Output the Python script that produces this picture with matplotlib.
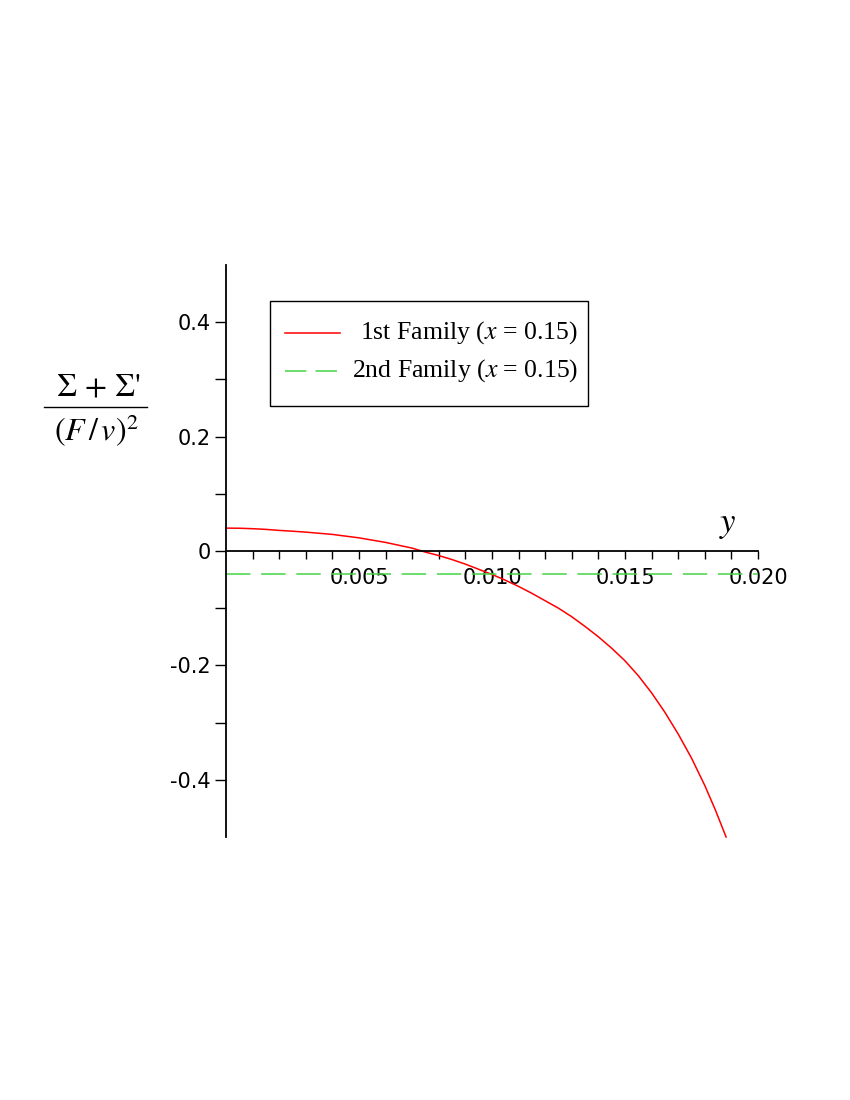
import matplotlib
matplotlib.use("Agg")
import matplotlib.pyplot as plt
from matplotlib.patches import Rectangle
from matplotlib.lines import Line2D
import numpy as np

plt.rcParams['mathtext.fontset'] = 'stix'

# values
y_first = [0.0, 0.0005, 0.001, 0.0015, 0.002, 0.0025, 0.003, 0.0035, 0.004, 0.0045,
           0.005, 0.0055, 0.006, 0.0065, 0.007, 0.0075, 0.008, 0.0085, 0.009, 0.0095,
           0.010, 0.0105, 0.011, 0.0115, 0.012, 0.0125, 0.013, 0.0135, 0.014, 0.0145,
           0.015, 0.0155, 0.016, 0.0165, 0.017, 0.0175, 0.018, 0.0184, 0.0188]
s_first = [0.040, 0.0398, 0.039, 0.0378, 0.036, 0.0346, 0.033, 0.031, 0.029, 0.026,
           0.023, 0.019, 0.015, 0.010, 0.005, -0.002, -0.008, -0.015, -0.023, -0.032,
           -0.041, -0.051, -0.062, -0.074, -0.087, -0.100, -0.115, -0.132, -0.150, -0.170,
           -0.192, -0.218, -0.248, -0.282, -0.320, -0.362, -0.410, -0.453, -0.500]
y_second = [0.0, 0.020]
s_second = [-0.040, -0.040]

xticks = [0.005, 0.010, 0.015, 0.020]
xticklabels = ['0.005', '0.010', '0.015', '0.020']
yticks = [-0.4, -0.2, 0.0, 0.2, 0.4]
yticklabels = ['-0.4', '-0.2', '0', '0.2', '0.4']
labels = ['1st Family ($x$ = 0.15)', '2nd Family ($x$ = 0.15)']

W, H = 850, 1100
fig = plt.figure(figsize=(8.5, 11), dpi=100)
ax = fig.add_axes([226 / W, 1 - 837 / H, 532 / W, 572 / H])

red = '#ff0000'
green = '#44d444'

ax.plot(y_first, s_first, color=red, lw=1.1, clip_on=False)
ax.plot(y_second, s_second, color=green, lw=1.1, dashes=(16, 7))

ax.set_xlim(0, 0.020)
ax.set_ylim(-0.5, 0.5)

for s in ['top', 'right']:
    ax.spines[s].set_visible(False)
ax.spines['bottom'].set_position(('data', 0))
ax.spines['left'].set_position(('data', 0))
ax.spines['bottom'].set_linewidth(1.3)
ax.spines['left'].set_linewidth(1.3)

ax.set_xticks(xticks)
ax.set_xticklabels(xticklabels)
ax.set_xticks(np.arange(0.001, 0.0201, 0.001), minor=True)
ax.set_yticks(yticks)
ax.set_yticklabels(yticklabels)
ax.set_yticks([-0.3, -0.1, 0.1, 0.3], minor=True)
ax.tick_params(axis='x', which='both', direction='out', length=6, width=1.0, labelsize=15, pad=6)
ax.tick_params(axis='y', which='both', direction='out', length=8, width=1.0, labelsize=15, pad=3)

# axis titles
fig.text(728 / W, 1 - 524 / H, '$y$', fontsize=25, ha='center', va='center')
fig.text(99 / W, 1 - 388 / H, "Σ + Σ'", fontsize=23, family='STIXGeneral', ha='center', va='center')
fig.text(96 / W, 1 - 431 / H, r"$\left(F\,/\,v\right)^{2}$", fontsize=23, ha='center', va='center')
fig.lines.append(Line2D([44 / W, 147 / W], [1 - 407 / H, 1 - 407 / H], transform=fig.transFigure,
                        color='black', lw=1.0))

# legend box
fig.patches.append(Rectangle((270 / W, 1 - 406 / H), 318 / W, 105 / H, transform=fig.transFigure,
                             fill=False, edgecolor='black', lw=1.0))
fig.lines.append(Line2D([285 / W, 340 / W], [1 - 333 / H, 1 - 333 / H], transform=fig.transFigure,
                        color=red, lw=1.1))
fig.lines.append(Line2D([285 / W, 340 / W], [1 - 371 / H, 1 - 371 / H], transform=fig.transFigure,
                        color=green, lw=1.1, dashes=(14, 6)))
for lab, yp in zip(labels, [333, 371]):
    fig.text(578 / W, 1 - yp / H, lab, fontsize=18.5, family='Liberation Serif', ha='right', va='center')

fig.savefig('out.png', dpi=100)
